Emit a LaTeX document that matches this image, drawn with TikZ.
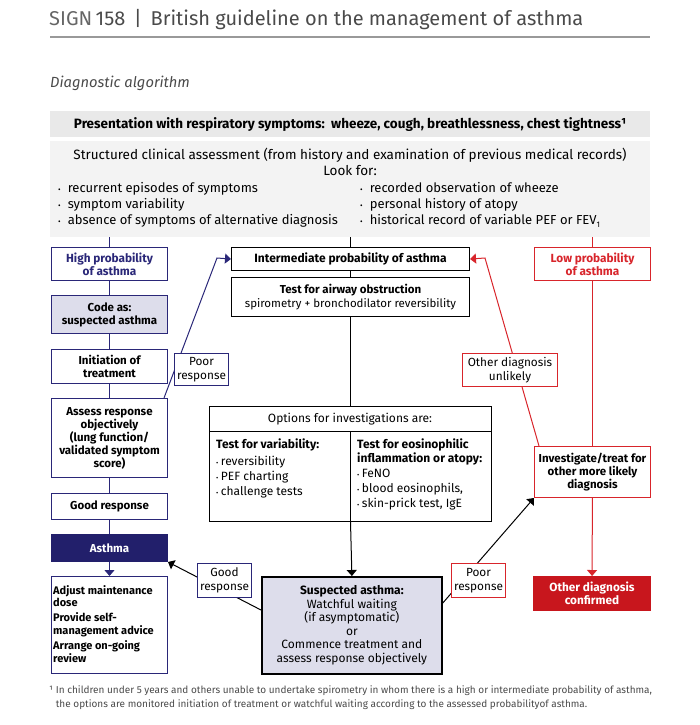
\documentclass[tikz,border=0pt]{standalone}
\usepackage{fontspec}
\setmainfont{Fira Sans}
\usetikzlibrary{arrows.meta,calc}
\definecolor{navy}{HTML}{2A2778}
\definecolor{navyfill}{HTML}{221F6B}
\definecolor{rred}{HTML}{D8252B}
\definecolor{rfill}{HTML}{C8161D}
\definecolor{lav}{HTML}{DDDDEB}
\definecolor{gone}{HTML}{E9E9E9}
\definecolor{gtwo}{HTML}{F3F3F3}
\definecolor{hdr}{HTML}{4A4A4A}
\newcommand{\fsz}[2]{\fontsize{#1}{#2}\selectfont}
\newcommand{\sbul}{{\fsz{8}{8}•}\hspace{7pt}}
\newcommand{\obul}{{\fsz{7}{7}•}\hspace{2.5pt}}
\begin{document}
\begin{tikzpicture}[x=1pt,y=-1pt,
  font=\fsz{11.5}{13},
  tip/.style={-{Triangle[width=10pt,length=6pt]}},
  box/.style={draw, line width=1pt, inner sep=1pt, align=center, anchor=north west, fill=white},
  bbox/.style={box, draw=navy},
  rbox/.style={box, draw=rred},
  kbox/.style={box, draw=black},
  bline/.style={draw=navy, line width=1pt},
  rline/.style={draw=rred, line width=1pt},
  kline/.style={draw=black, line width=1pt},
]
\useasboundingbox (0,0) rectangle (700,725);

% header
\node[anchor=base west, inner sep=0, text=hdr, font=\fsz{20}{22}] (hdrtxt) at (49,26) {{\color{black!60}SIGN}\,158 \,|\, British guideline on the management of asthma};
\draw[line width=2pt, draw=black!40] (50,37) -- (650,37);
\node[anchor=base west, inner sep=0, text=hdr, font=\fsz{14.7}{16}\itshape] (diag) at (50,88) {Diagnostic algorithm};

% top boxes
\node[anchor=north west, fill=gone, minimum width=600, minimum height=26, inner sep=0, font=\fsz{13.5}{15}\bfseries] (pres) at (50,111) {Presentation with respiratory symptoms:\ \ wheeze, cough, breathlessness, chest tightness¹};
\node[anchor=north west, fill=gtwo, minimum width=600, minimum height=96, inner sep=0] (struct) at (50,141) {};
\node[inner sep=0, font=\fsz{13.5}{15}] (stitle) at (350,155) {Structured clinical assessment (from history and examination of previous medical records)};
\node[inner sep=0, font=\fsz{13.5}{15}] (look) at (350,171) {Look for:};
\node[anchor=west, inner sep=0, align=left, font=\fsz{13}{16}] (lcol) at (58,205) {\sbul recurrent episodes of symptoms\\\sbul symptom variability\\\sbul absence of symptoms of alternative diagnosis};
\node[anchor=west, inner sep=0, align=left, font=\fsz{13}{16}] (rcol) at (360,205) {\sbul recorded observation of wheeze\\\sbul personal history of atopy\\\sbul historical record of variable PEF or FEV\raisebox{-3pt}{\fsz{8}{8}1}};

% left column (high probability)
\node[bbox, minimum width=116, minimum height=33, text=navy, font=\fsz{11.8}{13}\bfseries] (high) at (51,247) {High probability\\of asthma};
\node[bbox, fill=lav, minimum width=116, minimum height=38, font=\fsz{11.5}{13}\bfseries] (code) at (51,295) {Code as:\\suspected asthma};
\node[bbox, minimum width=116, minimum height=34, font=\fsz{11.5}{13}\bfseries] (init) at (51,349) {Initiation of\\treatment};
\node[bbox, minimum width=116, minimum height=79, font=\fsz{11.5}{13}\bfseries] (assess) at (51,398) {Assess response\\objectively\\(lung function/\\validated symptom\\score)};
\node[bbox, minimum width=116, minimum height=26, font=\fsz{11.5}{13}\bfseries] (goodr) at (51,493) {Good response};
\node[box, draw=navyfill, fill=navyfill, text=white, minimum width=116, minimum height=27, font=\fsz{11.5}{13}\bfseries] (asthma) at (51,534) {Asthma};
\node[bbox, minimum width=116, minimum height=97] (adjust) at (51,576) {};
\node[anchor=north west, inner sep=0, align=left, font=\fsz{11}{12.7}\bfseries] (adjtxt) at (53,585) {Adjust maintenance\\dose\\[2.3pt]Provide self-\\management advice\\[2.3pt]Arrange on-going\\review};

% centre column
\node[kbox, minimum width=238, minimum height=23, font=\fsz{12}{13}\bfseries] (inter) at (231,247) {Intermediate probability of asthma};
\node[kbox, minimum width=238, minimum height=39, font=\fsz{11.5}{14}] (test) at (231,277) {\textbf{Test for airway obstruction}\\spirometry + bronchodilator reversibility};
\node[kbox, minimum width=282, minimum height=115] (opts) at (209,406) {};
\node[inner sep=0, font=\fsz{12}{14}] (optshead) at (350,419) {Options for investigations are:};
\node[anchor=north west, inner sep=0, align=left, font=\fsz{12}{15}] (optl) at (216,439) {\textbf{Test for variability:}\\[2pt]\obul reversibility\\\obul PEF charting\\\obul challenge tests};
\node[anchor=north west, inner sep=0, align=left, font=\fsz{12}{13.5}] (optr) at (357,439) {\textbf{Test for eosinophilic}\\\textbf{inflammation or atopy:}\\[2pt]\obul FeNO\\[1.5pt]\obul blood eosinophils,\\[1.5pt]\obul skin-prick test, IgE};
\node[box, draw=black, line width=1.8pt, fill=lav, minimum width=180, minimum height=97, font=\fsz{12}{13.5}] (susp) at (261,576) {\textbf{Suspected asthma:}\\Watchful waiting\\(if asymptomatic)\\or\\Commence treatment and\\assess response objectively};

% right column
\node[rbox, minimum width=116, minimum height=33, text=rred, font=\fsz{11.8}{13}\bfseries] (low) at (534,247) {Low probability\\of asthma};
\node[rbox, minimum width=116, minimum height=51, font=\fsz{11.5}{13}\bfseries] (invest) at (534,446) {Investigate/treat for\\other more likely\\diagnosis};
\node[box, draw=rfill, fill=rfill, text=white, minimum width=117, minimum height=34, font=\fsz{11.8}{13}\bfseries] (confirmed) at (533,576) {Other diagnosis\\confirmed};

% connectors
\draw[bline] (high.north |- struct.south) -- (high.north);
\draw[kline] (inter.north |- struct.south) -- (inter.north);
\draw[rline] (low.north |- struct.south) -- (low.north);
\draw[bline] (high) -- (code);
\draw[bline] (code) -- (init);
\draw[bline] (init) -- (assess);
\draw[bline] (assess) -- (goodr);
\draw[bline] (goodr) -- (asthma);
\draw[bline, tip] (asthma) -- (adjust);
\draw[kline] (inter) -- (test);
\draw[kline] (test) -- (opts);
\draw[kline] (opts.west |- 0,431) -- (opts.east |- 0,431);
\draw[kline] (opts.north |- 0,431) -- (opts.south);
\draw[kline, tip] (opts.south) -- (susp.north);
\draw[rline] (low) -- (invest);
\draw[rline, tip] (invest) -- (confirmed);
\coordinate (bbend) at (217,258);
\coordinate (rbend) at (485,258);
\draw[bline, tip] ($(assess.north east)+(-4,0)$) -- (bbend) -- (inter.west);
\draw[rline, tip] ($(invest.north west)+(5,0)$) -- (rbend) -- (inter.east);
\draw[kline, tip] ($(susp.north west)+(0,34)$) -- (asthma.south east);
\draw[kline, tip] ($(susp.north east)+(0,27)$) -- (invest.south west);

% labels on connectors
\node[bbox, minimum width=54, minimum height=32, font=\fsz{11.8}{13.5}] (poor1) at (174,353) {Poor\\response};
\node[rbox, minimum width=95, minimum height=33, font=\fsz{11.8}{13.5}] (unlikely) at (462,353) {Other diagnosis\\unlikely};
\node[bbox, minimum width=54, minimum height=34, font=\fsz{11.8}{13.5}] (good2) at (197,563) {Good\\response};
\node[rbox, minimum width=54, minimum height=34, font=\fsz{11.8}{13.5}] (poor2) at (451,563) {Poor\\response};

% footnote
\node[anchor=north west, inner sep=0, align=left, text=hdr, font=\fsz{10}{14}] (foot) at (49,685) {¹ In children under 5 years and others unable to undertake spirometry in whom there is a high or intermediate probability of asthma,\\\phantom{¹ }the options are monitored initiation of treatment or watchful waiting according to the assessed probabilityof asthma.};
\end{tikzpicture}
\end{document}
